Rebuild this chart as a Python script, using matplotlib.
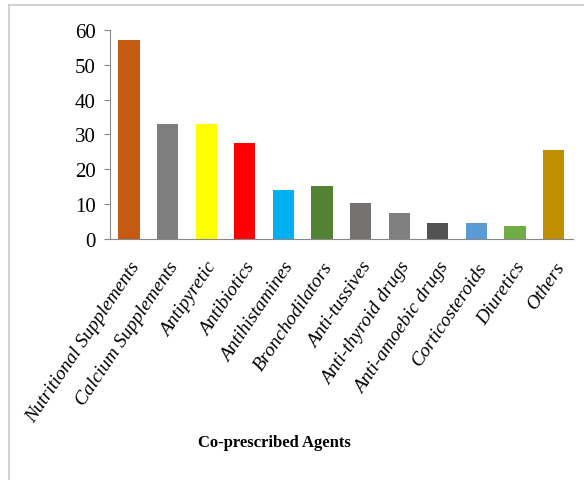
import matplotlib.pyplot as plt

agents = ['Nutritional Supplements', 'Calcium Supplements', 'Antipyretic', 'Antibiotics',
          'Antihistamines', 'Bronchodilators', 'Anti-tussives', 'Anti-thyroid drugs',
          'Anti-amoebic drugs', 'Corticosteroids', 'Diuretics', 'Others']
values = [57.0, 33.1, 33.0, 27.6, 14.0, 15.1, 10.2, 7.6, 4.5, 4.5, 3.6, 25.4]
colors = ['#c55a11', '#7f7f7f', '#ffff00', '#ff0000', '#00b0f0', '#548235',
          '#767171', '#808080', '#525252', '#5b9bd5', '#70ad47', '#bf8f00']

plt.rcParams['font.family'] = ['Liberation Serif', 'DejaVu Serif']

fig = plt.figure(figsize=(5.84, 4.81), dpi=100)
ax = fig.add_axes([0.188, 0.501, 0.793, 0.435])

x = range(len(agents))
ax.bar(x, values, width=0.55, color=colors)

ax.set_xlim(-0.5, len(agents) - 0.5)
ax.set_ylim(0, 60)
ax.set_yticks(range(0, 61, 10))
ax.tick_params(axis='y', labelsize=15, length=4, color='#888888', pad=6)
ax.set_xticks(list(x))
ax.set_xticklabels(agents, rotation=56, ha='right', rotation_mode='anchor',
                   fontsize=14, fontstyle='italic')
ax.tick_params(axis='x', length=0, pad=14)

for side in ['top', 'right']:
    ax.spines[side].set_visible(False)
for side in ['left', 'bottom']:
    ax.spines[side].set_color('#888888')

fig.text(0.47, 0.08, 'Co-prescribed Agents', ha='center', va='center',
         fontsize=12, fontweight='bold')

# light frame around the chart
fig.add_artist(plt.Line2D([9 / 584, 9 / 584], [0, 1 - 6 / 481], color='#c8c8c8', lw=1.2))
fig.add_artist(plt.Line2D([9 / 584, 1], [1 - 6 / 481, 1 - 6 / 481], color='#c8c8c8', lw=1.2))

plt.savefig('out.png', dpi=100)
